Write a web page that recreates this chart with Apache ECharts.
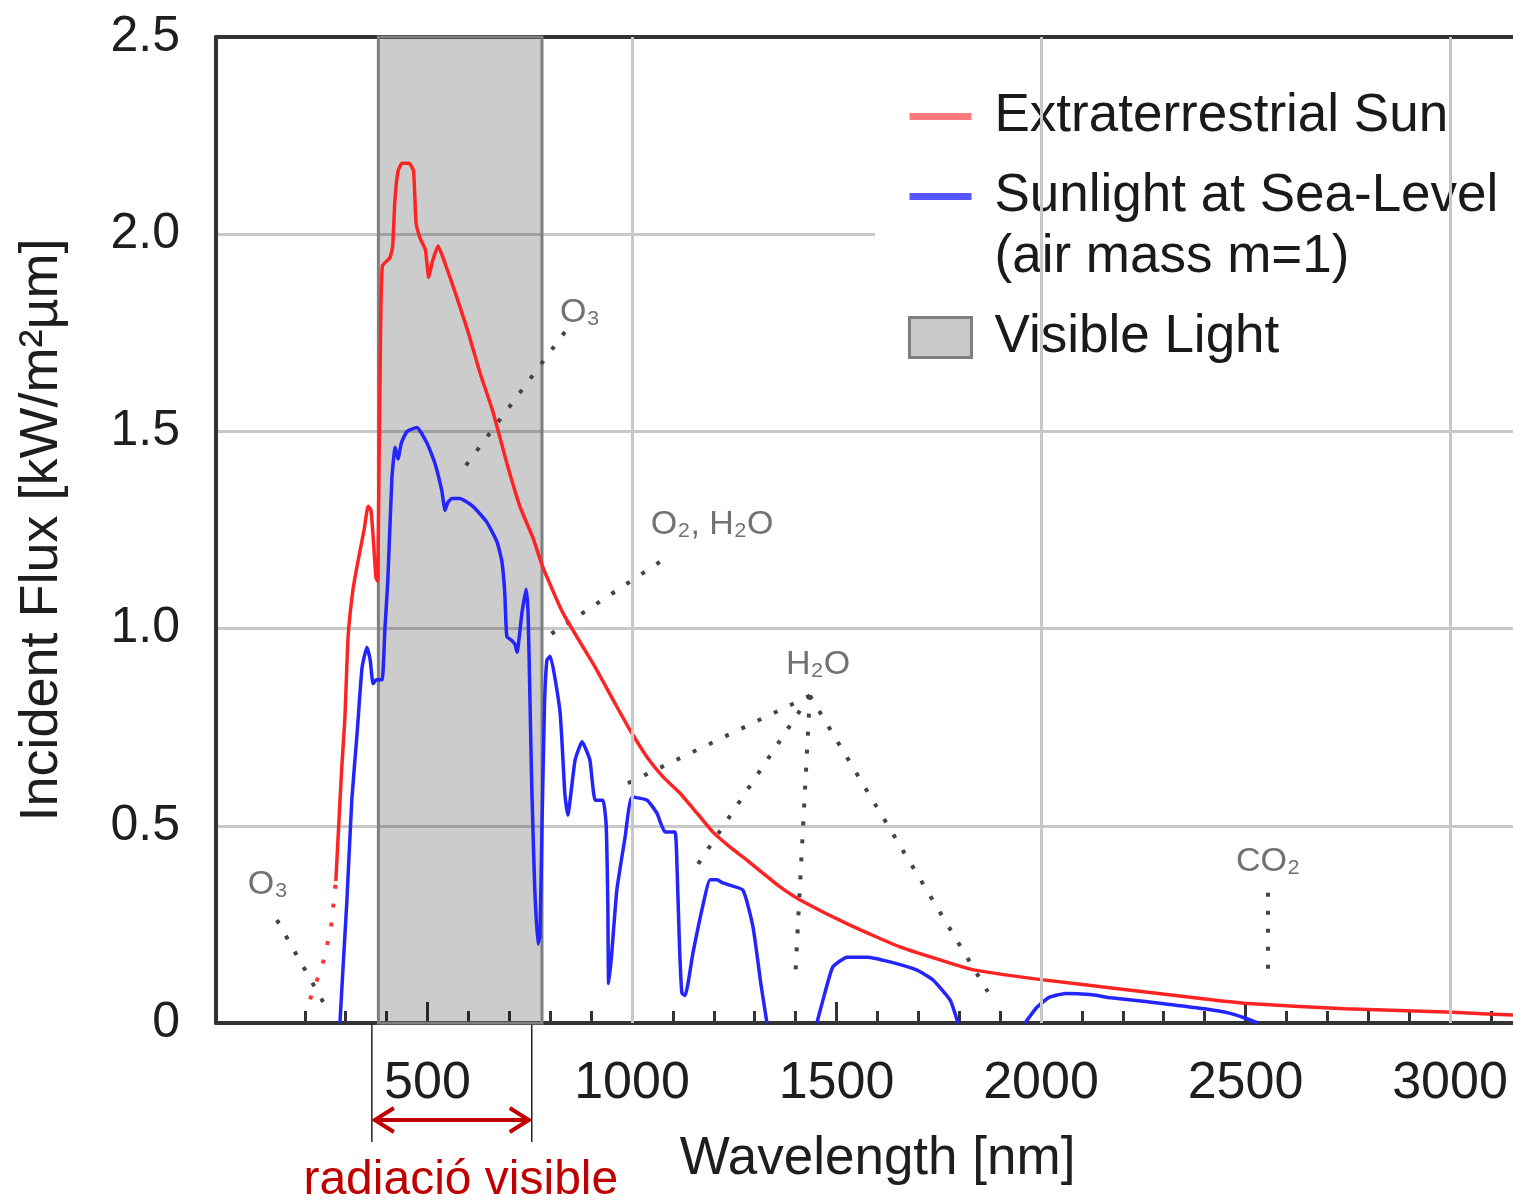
<!DOCTYPE html>
<html>
<head>
<meta charset="utf-8">
<title>Solar spectrum</title>
<script src="https://cdn.jsdelivr.net/npm/echarts@6/dist/echarts.min.js"></script>
<style>
html,body{margin:0;padding:0;background:#fff;}
#chart{width:1513px;height:1201px;}
</style>
</head>
<body>
<div id="chart"></div>
<script>
// wavelength [nm] and flux [kW/m2um]
var redWl = [276, 283, 290, 298, 306, 318, 330, 345, 355, 362, 368, 374, 378, 382, 386, 390, 408, 415, 420, 428, 438, 455, 466, 472, 482, 495, 503, 512, 526, 545, 562, 597, 628, 660, 694, 726, 758, 782, 831, 914, 954, 995, 1037, 1076, 1117, 1159, 1198, 1240, 1281, 1320, 1362, 1411, 1533, 1655, 1778, 1839, 2000, 2173, 2391, 2497, 2743, 3007, 3154];
var redFlux = [0.36, 0.5, 0.64, 0.77, 0.98, 1.1, 1.17, 1.25, 1.31, 1.3, 1.22, 1.13, 1.12, 1.45, 1.8, 1.92, 1.94, 1.97, 2.08, 2.16, 2.18, 2.18, 2.16, 2.03, 1.99, 1.96, 1.89, 1.93, 1.97, 1.92, 1.87, 1.76, 1.65, 1.55, 1.42, 1.31, 1.23, 1.156, 1.04, 0.895, 0.819, 0.743, 0.674, 0.624, 0.583, 0.532, 0.484, 0.446, 0.413, 0.38, 0.345, 0.312, 0.248, 0.193, 0.152, 0.134, 0.11, 0.089, 0.062, 0.05, 0.036, 0.027, 0.02];
// dotted red tail below 276 nm
var redTailWl = [213, 227, 244, 264, 274, 276];
var redTailFlux = [0.06, 0.10, 0.15, 0.24, 0.34, 0.36];
// '-' = gap in the sea-level curve
var blueWl = [286, 293, 303, 315, 328, 340, 352, 360, 367, 375, 389, 396, 403, 413, 421, 428, 436, 450, 474, 499, 518, 535, 543, 550, 560, 579, 611, 645, 670, 682, 689, 694, 706, 714, 719, 731, 741, 746, 750, 755, 762, 770, 775, 780, 786, 792, 800, 824, 836, 843, 861, 878, 897, 910, 929, 937, 941, 943, 950, 963, 983, 1000, 1037, 1061, 1081, 1105, 1110, 1116, 1122, 1130, 1149, 1171, 1191, 1208, 1222, 1271, 1296, 1315, 1330, 1400, 1452, 1470, 1491, 1526, 1575, 1631, 1697, 1736, 1778, 1797, 1880, 1961, 1990, 2020, 2060, 2120, 2170, 2250, 2330, 2400, 2460, 2500, 2530];
var blueFlux = [0, 0.13, 0.31, 0.565, 0.735, 0.9, 0.953, 0.92, 0.86, 0.87, 0.87, 1.0, 1.12, 1.38, 1.46, 1.43, 1.47, 1.5, 1.51, 1.47, 1.42, 1.35, 1.3, 1.32, 1.33, 1.33, 1.31, 1.27, 1.22, 1.17, 1.09, 0.98, 0.97, 0.96, 0.94, 1.04, 1.1, 1.04, 0.85, 0.6, 0.35, 0.2, 0.22, 0.5, 0.8, 0.92, 0.93, 0.79, 0.58, 0.527, 0.667, 0.713, 0.667, 0.565, 0.565, 0.5, 0.3, 0.1, 0.17, 0.337, 0.47, 0.573, 0.565, 0.532, 0.484, 0.484, 0.4, 0.2, 0.076, 0.07, 0.177, 0.287, 0.363, 0.363, 0.355, 0.337, 0.243, 0.1, 0, '-', 0, 0.07, 0.142, 0.167, 0.167, 0.155, 0.134, 0.109, 0.058, 0, '-', 0, 0.04, 0.065, 0.075, 0.072, 0.064, 0.055, 0.045, 0.036, 0.025, 0.012, 0];

var visibleBand = [380, 780];
var gridWl = [1000, 2000, 3000];
var majorTicks = [500, 1000, 1500, 2000, 2500, 3000];
var minorTicks = [];
for (var t = 200; t <= 3100; t += 100) minorTicks.push(t);

// absorption labels and their dotted leaders
var noteNames = ['O₃', 'O₃', 'O₂, H₂O', 'H₂O', 'CO₂'];
var noteWl = [110, 873, 1196, 1455, 2555];
var noteFlux = [0.35, 1.80, 1.263, 0.908, 0.408];
var leadFromWl = [132, 836, 1068, 1435, 1435, 1435, 1435, 2555];
var leadFromFlux = [0.261, 1.752, 1.169, 0.83, 0.83, 0.83, 0.83, 0.33];
var leadToWl = [249, 582, 787, 966, 1147, 1399, 1870, 2555];
var leadToFlux = [0.046, 1.397, 0.976, 0.596, 0.38, 0.114, 0.079, 0.122];

// red "radiació visible" bracket under the axis
var visArrowWl = [364, 755];

var FONT = '"Liberation Sans", Arial, Helvetica, sans-serif';
var LINE_ICON = 'path://M0,0h62v7h-62z';
var X_MIN = -17, X_MAX = 3154;

var chart = echarts.init(document.getElementById('chart'));

function pairs(xs, ys) {
    return xs.map(function (x, i) { return [x, ys[i]]; });
}

var leadData = [];
for (var i = 0; i < leadFromWl.length; i++) {
    leadData.push({coords: [[leadFromWl[i], leadFromFlux[i]], [leadToWl[i], leadToFlux[i]]]});
}

chart.setOption({
    animation: false,
    grid: {left: 216, right: 0, top: 37, bottom: 178},
    legend: {
        orient: 'vertical', left: 875, top: 67,
        backgroundColor: '#fff', padding: [0, 40, 0, 33], itemGap: 0,
        itemWidth: 62, itemHeight: 40, selectedMode: false, symbolKeepAspect: true,
        textStyle: {fontSize: 53, color: '#1a1a1a', fontFamily: FONT, padding: [0, 0, 0, 18]},
        data: [
            {name: 'Extraterrestrial Sun', icon: LINE_ICON, itemStyle: {color: '#ff7a7a'}, textStyle: {lineHeight: 99}},
            {name: 'Sunlight at Sea-Level', icon: LINE_ICON, itemStyle: {color: '#5656ff'}, textStyle: {lineHeight: 61}},
            {name: '(air mass m=1)', icon: 'path://M0,0h1v1h-1z', itemStyle: {color: 'rgba(0,0,0,0)'}, textStyle: {lineHeight: 61}},
            {name: 'Visible Light', icon: 'rect', itemStyle: {color: '#c8c8c8', borderColor: '#7f7f7f', borderWidth: 3}, textStyle: {lineHeight: 99}}
        ]
    },
    xAxis: [{
        type: 'value', min: X_MIN, max: X_MAX,
        axisLine: {show: true, onZero: false, lineStyle: {color: '#333', width: 4}},
        axisTick: {show: true, inside: true, length: 12, customValues: minorTicks, lineStyle: {color: '#333', width: 3}},
        axisLabel: {show: false},
        splitLine: {show: false}
    }, {
        type: 'value', min: X_MIN, max: X_MAX, position: 'bottom',
        axisLine: {show: false, onZero: false},
        axisTick: {show: true, inside: true, length: 21, customValues: majorTicks, lineStyle: {color: '#333', width: 3}},
        axisLabel: {
            customValues: majorTicks, fontSize: 52, margin: 35, color: '#1e1e1e', fontFamily: FONT,
            formatter: function (v) { return String(v); }
        },
        splitLine: {show: false},
        name: 'Wavelength [nm]', nameLocation: 'middle', nameGap: 110,
        nameTextStyle: {fontSize: 53, color: '#1e1e1e', fontFamily: FONT, padding: [0, 0, 0, 26]}
    }, {
        // top frame line
        type: 'value', min: X_MIN, max: X_MAX, position: 'top',
        axisLine: {show: true, onZero: false, lineStyle: {color: '#333', width: 4}},
        axisTick: {show: false}, axisLabel: {show: false}, splitLine: {show: false}
    }],
    yAxis: {
        type: 'value', min: 0, max: 2.5, interval: 0.5,
        name: 'Incident Flux [kW/m²µm]', nameLocation: 'middle', nameGap: 147,
        nameTextStyle: {fontSize: 54, color: '#1e1e1e', fontFamily: FONT},
        axisLine: {show: true, onZero: false, lineStyle: {color: '#333', width: 4}},
        axisTick: {show: false},
        axisLabel: {
            fontSize: 50, color: '#1e1e1e', fontFamily: FONT, margin: 36,
            formatter: function (v) { return v === 0 ? '0' : v.toFixed(1); }
        },
        splitLine: {lineStyle: {color: '#c8c8c8', width: 3}}
    },
    series: [{
        name: 'Visible Light', type: 'line', data: [], silent: true,
        markArea: {
            silent: true,
            itemStyle: {color: 'rgba(0,0,0,0.2)', borderColor: '#7f7f7f', borderWidth: 3},
            data: [[{xAxis: visibleBand[0]}, {xAxis: visibleBand[1]}]]
        },
        markLine: {
            silent: true, symbol: ['none', 'none'], label: {show: false},
            lineStyle: {color: '#c8c8c8', width: 3, type: 'solid'},
            data: gridWl.map(function (w) { return {xAxis: w}; })
        }
    }, {
        name: '(air mass m=1)', type: 'line', data: []
    }, {
        name: 'tail', type: 'line', data: pairs(redTailWl, redTailFlux),
        showSymbol: false, silent: true,
        lineStyle: {color: '#ff3333', width: 4, type: [4, 15]}
    }, {
        name: 'Extraterrestrial Sun', type: 'line', data: pairs(redWl, redFlux),
        showSymbol: false, smooth: 0.15, silent: true,
        lineStyle: {color: '#ff2424', width: 3.5}, itemStyle: {color: '#ff2424'}
    }, {
        name: 'Sunlight at Sea-Level', type: 'line', data: pairs(blueWl, blueFlux),
        showSymbol: false, smooth: 0.15, silent: true, connectNulls: false,
        lineStyle: {color: '#2424ff', width: 3.5}, itemStyle: {color: '#2424ff'}
    }, {
        name: 'leaders', type: 'lines', coordinateSystem: 'cartesian2d', data: leadData,
        silent: true, z: 3,
        lineStyle: {color: '#444', width: 4, type: [4, 14], opacity: 1}
    }, {
        name: 'notes', type: 'scatter', silent: true, symbolSize: 1,
        itemStyle: {color: 'rgba(0,0,0,0)'},
        data: noteWl.map(function (w, i) { return {value: [w, noteFlux[i]], name: noteNames[i]}; }),
        label: {show: true, position: 'inside', formatter: '{b}', color: '#4d4d4d', fontSize: 34, fontFamily: FONT}
    }]
});

// bracket + arrow below the axis, placed from the axis scale
var x1 = chart.convertToPixel({xAxisIndex: 0}, visArrowWl[0]);
var x2 = chart.convertToPixel({xAxisIndex: 0}, visArrowWl[1]);
var y0 = chart.convertToPixel({yAxisIndex: 0}, 0);
var ay = y0 + 97;
var red = '#c00000';
chart.setOption({
    graphic: [
        {type: 'line', shape: {x1: x1, y1: y0, x2: x1, y2: y0 + 119}, style: {stroke: '#222', lineWidth: 1.5}},
        {type: 'line', shape: {x1: x2, y1: y0, x2: x2, y2: y0 + 119}, style: {stroke: '#222', lineWidth: 1.5}},
        {type: 'line', shape: {x1: x1 + 3, y1: ay, x2: x2 - 3, y2: ay}, style: {stroke: red, lineWidth: 4}},
        {type: 'polyline', shape: {points: [[x1 + 22, ay - 12], [x1 + 3, ay], [x1 + 22, ay + 12]]}, style: {stroke: red, lineWidth: 4, fill: null}},
        {type: 'polyline', shape: {points: [[x2 - 22, ay - 12], [x2 - 3, ay], [x2 - 22, ay + 12]]}, style: {stroke: red, lineWidth: 4, fill: null}},
        {type: 'text', x: (x1 + x2) / 2 + 9, y: y0 + 158,
         style: {text: 'radiació visible', fill: red, font: '48px ' + FONT, textAlign: 'center', textVerticalAlign: 'middle'}}
    ]
});
</script>
</body>
</html>
